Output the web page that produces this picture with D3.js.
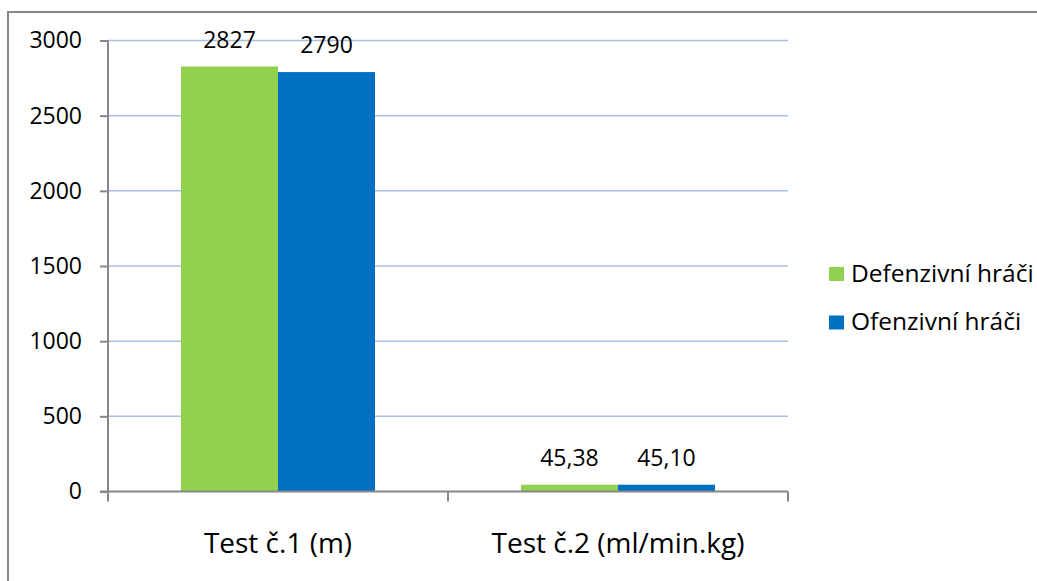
<!DOCTYPE html>
<html>
<head>
<meta charset="utf-8">
<script src="https://cdn.jsdelivr.net/npm/d3@7"></script>
<style>
  html, body { margin: 0; padding: 0; background: #ffffff; }
  svg { display: block; }
  text { font-family: "Open Sans", sans-serif; fill: #000000; }
</style>
</head>
<body>
<script>
// Chart data
const categories = ["Test č.1 (m)", "Test č.2 (ml/min.kg)"];
const seriesNames = ["Defenzivní hráči", "Ofenzivní hráči"];
const defenzivni = [2827, 45.38];
const ofenzivni = [2790, 45.10];
const labelDecimals = [0, 2];
const yTicks = [0, 500, 1000, 1500, 2000, 2500, 3000];
const colors = ["#92D050", "#0070C0"];

const W = 1037, H = 581;
const plot = { left: 108, right: 788, top: 40.5, bottom: 491.5 };

const svg = d3.select("body").append("svg")
  .attr("width", W).attr("height", H);

// Outer chart frame (runs off the right and bottom edges)
svg.append("rect")
  .attr("x", 8).attr("y", 12)
  .attr("width", W + 20).attr("height", H + 20)
  .attr("fill", "none").attr("stroke", "#878787").attr("stroke-width", 2);

const y = d3.scaleLinear().domain([0, 3000]).range([plot.bottom, plot.top]);
const x0 = d3.scaleBand().domain(categories).range([plot.left, plot.right]).padding(0);
const x1 = d3.scaleBand().domain(seriesNames).range([0, x0.bandwidth()])
  .paddingInner(0).paddingOuter(0.7526);

const locale = d3.formatLocale({ decimal: ",", thousands: "", grouping: [3], currency: ["", ""] });
const formatValue = (v, i) => locale.format("." + labelDecimals[i] + "f")(v);

// Horizontal gridlines
svg.append("g").selectAll("line")
  .data(yTicks.filter(t => t > 0))
  .join("line")
  .attr("x1", plot.left).attr("x2", plot.right)
  .attr("y1", d => y(d)).attr("y2", d => y(d))
  .attr("stroke", "#A8C0E4").attr("stroke-width", 1.5);

// Bars
const rows = categories.map((c, i) => ({
  cat: c, idx: i,
  values: [
    { name: seriesNames[0], value: defenzivni[i], color: colors[0] },
    { name: seriesNames[1], value: ofenzivni[i], color: colors[1] }
  ]
}));

const groups = svg.append("g").selectAll("g")
  .data(rows).join("g")
  .attr("transform", d => `translate(${x0(d.cat)},0)`);

groups.selectAll("rect")
  .data(d => d.values)
  .join("rect")
  .attr("x", d => x1(d.name))
  .attr("width", x1.bandwidth())
  .attr("y", d => y(d.value))
  .attr("height", d => y(0) - y(d.value))
  .attr("fill", d => d.color);

groups.selectAll("text.val")
  .data(d => d.values.map(v => ({ ...v, idx: d.idx })))
  .join("text")
  .attr("class", "val")
  .attr("x", d => x1(d.name) + x1.bandwidth() / 2)
  .attr("y", d => y(d.value) - 19)
  .attr("text-anchor", "middle")
  .attr("font-size", 23)
  .text(d => formatValue(d.value, d.idx));

// Y axis
const yAxis = svg.append("g")
  .attr("transform", `translate(${plot.left},0)`)
  .call(d3.axisLeft(y).tickValues(yTicks).tickSize(8).tickPadding(18).tickFormat(d3.format("d")));
yAxis.select(".domain").attr("stroke", "#878787").attr("stroke-width", 2)
  .attr("d", `M0,${plot.top}V${plot.bottom}`);
yAxis.selectAll(".tick line").attr("stroke", "#878787").attr("stroke-width", 2);
yAxis.selectAll(".tick text").attr("font-size", 23).attr("font-family", "Open Sans, sans-serif").attr("fill", "#000");

// X axis
const xAxis = svg.append("g")
  .attr("transform", `translate(0,${plot.bottom})`);
xAxis.append("line")
  .attr("x1", plot.left - 8).attr("x2", plot.right)
  .attr("stroke", "#878787").attr("stroke-width", 2);
const xTickPos = [plot.left, ...categories.slice(1).map(c => x0(c)), plot.right];
xAxis.selectAll("line.tk")
  .data(xTickPos).join("line")
  .attr("class", "tk")
  .attr("x1", d => d).attr("x2", d => d)
  .attr("y1", 0).attr("y2", 10)
  .attr("stroke", "#878787").attr("stroke-width", 2);
xAxis.selectAll("text")
  .data(categories).join("text")
  .attr("x", d => x0(d) + x0.bandwidth() / 2)
  .attr("y", 61)
  .attr("text-anchor", "middle")
  .attr("font-size", 28)
  .text(d => d);

// Legend
const legend = svg.append("g").attr("transform", "translate(829,267)");
const li = legend.selectAll("g").data(seriesNames).join("g")
  .attr("transform", (d, i) => `translate(0,${i * 48.5})`);
li.append("rect").attr("width", 15).attr("height", 14)
  .attr("fill", (d, i) => colors[i]);
li.append("text").attr("x", 22).attr("y", 14.5)
  .attr("font-size", 24.5)
  .text(d => d);
</script>
</body>
</html>
